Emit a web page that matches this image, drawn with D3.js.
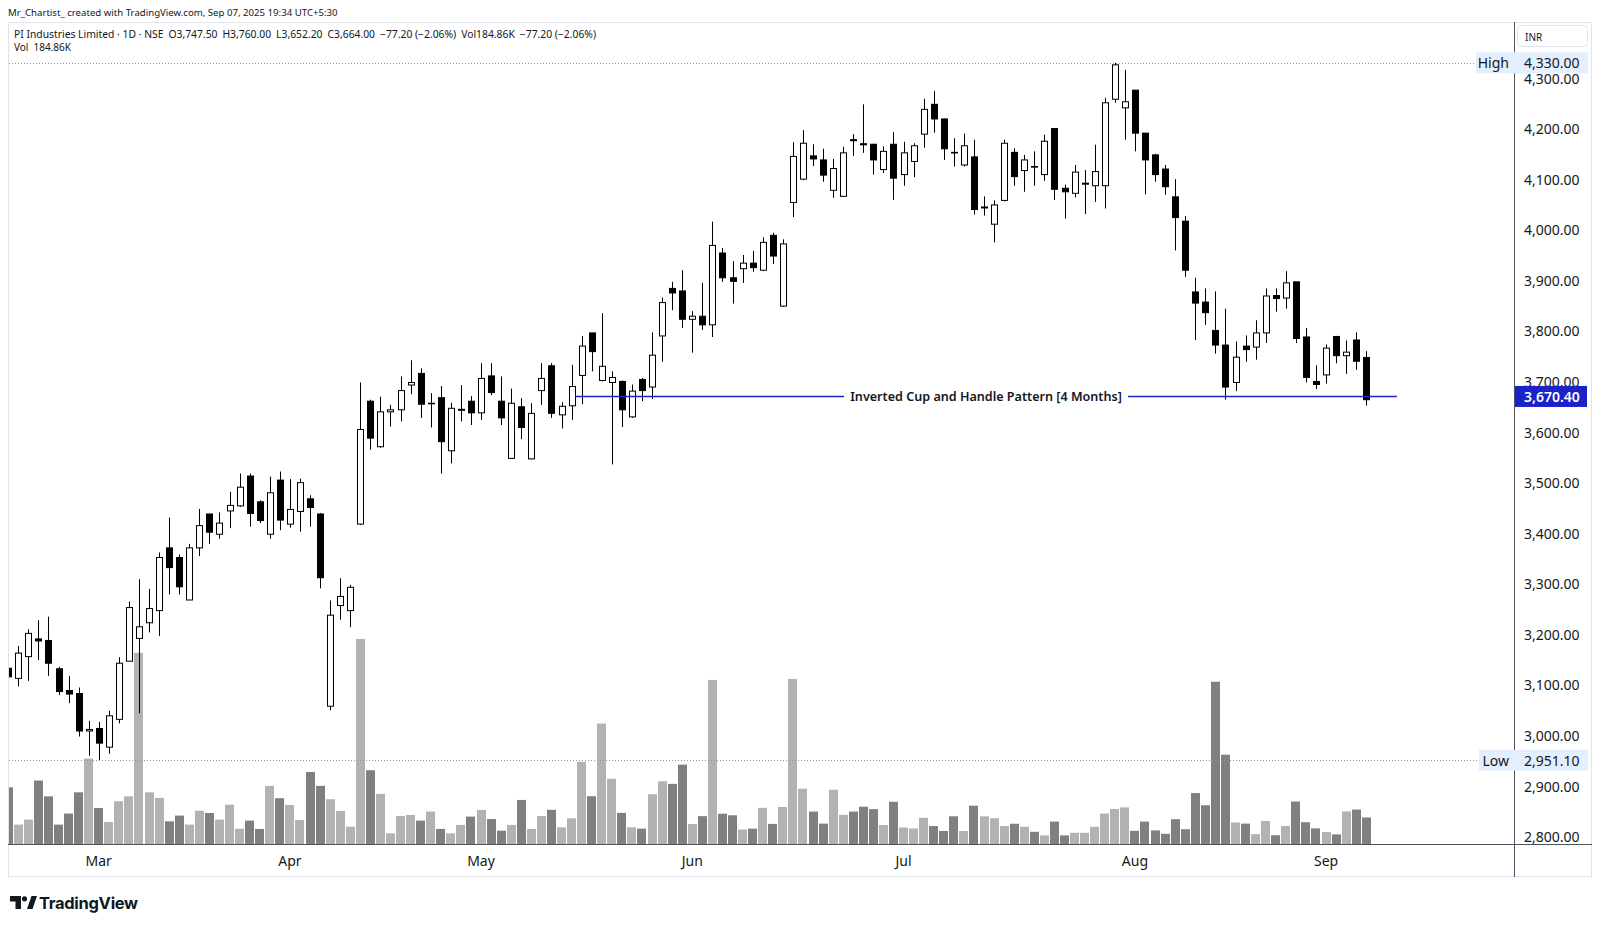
<!DOCTYPE html>
<html><head><meta charset="utf-8">
<script src="https://cdn.jsdelivr.net/npm/d3@7"></script>
<style>
html,body{margin:0;padding:0;background:#fff;}
svg{display:block;}
text{font-family:"Noto Sans",Roboto,sans-serif;fill:#131722;}
</style></head><body>
<svg id="chart" width="1600" height="927"></svg>
<script>
// ---------------- DATA ----------------
const dates = [
"2025-02-17","2025-02-18","2025-02-19","2025-02-20","2025-02-21","2025-02-24","2025-02-25","2025-02-27","2025-02-28",
"2025-03-03","2025-03-04","2025-03-05","2025-03-06","2025-03-07","2025-03-10","2025-03-11","2025-03-12","2025-03-13","2025-03-17","2025-03-18","2025-03-19","2025-03-20","2025-03-21","2025-03-24","2025-03-25","2025-03-26","2025-03-27","2025-03-28",
"2025-04-01","2025-04-02","2025-04-03","2025-04-04","2025-04-07","2025-04-08","2025-04-09","2025-04-11","2025-04-15","2025-04-16","2025-04-17","2025-04-21","2025-04-22","2025-04-23","2025-04-24","2025-04-25","2025-04-28","2025-04-29","2025-04-30",
"2025-05-02","2025-05-05","2025-05-06","2025-05-07","2025-05-08","2025-05-09","2025-05-12","2025-05-13","2025-05-14","2025-05-15","2025-05-16","2025-05-19","2025-05-20","2025-05-21","2025-05-22","2025-05-23","2025-05-26","2025-05-27","2025-05-28","2025-05-29","2025-05-30",
"2025-06-02","2025-06-03","2025-06-04","2025-06-05","2025-06-06","2025-06-09","2025-06-10","2025-06-11","2025-06-12","2025-06-13","2025-06-16","2025-06-17","2025-06-18","2025-06-19","2025-06-20","2025-06-23","2025-06-24","2025-06-25","2025-06-26","2025-06-27","2025-06-30",
"2025-07-01","2025-07-02","2025-07-03","2025-07-04","2025-07-07","2025-07-08","2025-07-09","2025-07-10","2025-07-11","2025-07-14","2025-07-15","2025-07-16","2025-07-17","2025-07-18","2025-07-21","2025-07-22","2025-07-23","2025-07-24","2025-07-25","2025-07-28","2025-07-29","2025-07-30","2025-07-31",
"2025-08-01","2025-08-04","2025-08-05","2025-08-06","2025-08-07","2025-08-08","2025-08-11","2025-08-12","2025-08-13","2025-08-14","2025-08-18","2025-08-19","2025-08-20","2025-08-21","2025-08-22","2025-08-25","2025-08-26","2025-08-28","2025-08-29",
"2025-09-01","2025-09-02","2025-09-03","2025-09-04","2025-09-05"
];
const open = [3133,3113,3156,3191,3188,3132,3089,3083,3009,3014,2977,3032,3147,3192,3223,3247,3371,3352,3268,3371,3438,3398,3444,3454,3513,3462,3398,3505,3418,3443,3468,3438,3058,3257,3247,3418,3661,3571,3640,3644,3693,3716,3656,3668,3563,3643,3661,3638,3711,3661,3548,3650,3547,3682,3731,3634,3652,3712,3796,3702,3698,3700,3630,3704,3689,3790,3884,3879,3823,3829,3812,3954,3905,3923,3934,3920,3989,3849,4054,4100,4146,4138,4078,4066,4178,4170,4169,4119,4169,4109,4135,4189,4248,4219,4153,4128,4144,4043,4011,4058,4153,4117,4125,4109,4200,4082,4072,4090,4087,4087,4258,4241,4276,4191,4148,4120,4065,4017,3877,3857,3801,3772,3698,3770,3768,3796,3870,3865,3897,3788,3700,3713,3789,3751,3782,3747.5];
const high = [3188,3177,3210,3228,3235,3136,3118,3095,3029,3027,3049,3155,3265,3309,3290,3362,3431,3358,3379,3448,3438,3441,3482,3518,3518,3465,3512,3522,3507,3508,3475,3440,3267,3311,3298,3698,3664,3670,3654,3710,3742,3726,3677,3691,3658,3693,3671,3736,3736,3710,3686,3667,3657,3736,3736,3659,3733,3790,3796,3835,3720,3702,3694,3707,3797,3866,3897,3920,3839,3895,4016,3964,3938,3950,3958,3985,3994,3981,4173,4197,4169,4160,4140,4164,4189,4248,4170,4165,4193,4174,4171,4259,4274,4220,4181,4190,4178,4066,4058,4178,4161,4148,4155,4188,4200,4089,4128,4118,4168,4261,4330,4316,4276,4191,4150,4128,4100,4027,3905,3884,3878,3844,3779,3791,3821,3884,3884,3918,3897,3806,3732,3773,3790,3781,3797,3760];
const low = [3100,3097,3108,3149,3118,3080,3064,2998,2960,2951.1,2964,3024,3147,3044,3204,3197,3279,3279,3268,3355,3379,3389,3410,3452,3413,3420,3389,3406,3411,3403,3413,3291,3050,3229,3214,3416,3565,3569,3611,3621,3675,3628,3609,3518,3538,3621,3614,3624,3673,3614,3547,3586,3546,3654,3628,3607,3624,3655,3720,3700,3536,3610,3628,3661,3665,3739,3841,3806,3757,3802,3788,3897,3854,3895,3917,3918,3932,3848,4025,4098,4126,4095,4063,4065,4146,4152,4109,4112,4059,4087,4104,4162,4192,4138,4125,4125,4030,4028,3975,4056,4087,4075,4087,4097,4059,4022,4064,4031,4055,4042,4251,4178,4155,4070,4095,4069,3959,3907,3782,3812,3755,3664,3681,3739,3743,3776,3838,3844,3776,3698,3685,3696,3736,3715,3723,3652.2];
const close = [3116,3163,3202,3187,3143,3087,3082,3009,3012,2985,3039,3143,3253,3215,3251,3352,3332,3294,3371,3415,3402,3420,3455,3491,3439,3425,3480,3426,3447,3500,3451,3312,3238,3275,3293,3605,3588,3640,3644,3682,3698,3655,3657,3581,3647,3645,3638,3706,3678,3628,3657,3609,3637,3706,3637,3651,3690,3770,3759,3730,3708,3644,3681,3682,3752,3856,3875,3823,3829,3812,3969,3905,3898,3934,3925,3975,3948,3972,4145,4171,4140,4108,4121,4152,4176,4168,4138,4155,4102,4152,4166,4238,4219,4160,4152,4166,4040,4045,4049,4171,4105,4138,4124,4175,4080,4075,4114,4092,4115,4251,4326,4253,4191,4138,4109,4085,4024,3920,3855,3836,3772,3689,3748,3763,3796,3869,3864,3895,3785,3708,3694,3766,3751,3758,3740,3664];
const volume = [395,135,170,442,332,135,212,360,595,251,153,298,332,1332,360,321,158,198,135,232,216,170,274,106,163,105,405,319,272,167,502,405,312,230,121,1428,514,349,74,195,202,163,226,105,74,133,191,237,174,93,133,307,105,195,238,116,179,573,333,839,454,217,116,107,347,437,419,553,139,194,1143,211,200,101,107,252,140,258,1150,385,226,142,378,203,226,260,243,132,294,115,108,182,125,91,193,91,267,193,180,125,141,120,85,60,156,60,78,78,120,212,244,255,92,156,95,71,173,103,355,270,1130,622,150,142,69,160,61,125,296,152,109,83,67,227,240,184.86];
const priceTicks = [2800,2900,3000,3100,3200,3300,3400,3500,3600,3700,3800,3900,4000,4100,4200,4300];
const monthNames = ["Jan","Feb","Mar","Apr","May","Jun","Jul","Aug","Sep","Oct","Nov","Dec"];
const periodHigh = 4330.00;
const periodLow = 2951.10;
const patternPrice = 3670.40;
const patternSpan = [56.35, 138.05];   // in bar-index units
const patternLabel = "Inverted Cup and Handle Pattern [4 Months]";
const headerLine1 = "Mr_Chartist_ created with TradingView.com, Sep 07, 2025 19:34 UTC+5:30";
const headerParts = ["PI Industries Limited · 1D · NSE","O3,747.50","H3,760.00","L3,652.20","C3,664.00","−77.20 (−2.06%)","Vol184.86K","−77.20 (−2.06%)"];
const volLegend = ["Vol","184.86K"];

// ---------------- LAYOUT ----------------
const pane = {left: 8, top: 22, right: 1514, bottom: 844};
const axisRight = 1592, frameBottom = 877;
const svg = d3.select("#chart");
const n = dates.length;

const x = d3.scaleLinear().domain([0, n - 1]).range([8.2, 1366.3]);
const y = d3.scaleLinear().domain([2800, 4300]).range([836.7, 78]);
const yv = d3.scaleLinear().domain([0, d3.max(volume)]).range([pane.bottom, pane.bottom - 205]);

const data = dates.map((d, i) => ({i, d, o: open[i], h: high[i], l: low[i], c: close[i], v: volume[i]}));

// frame
svg.append("rect").attr("x", pane.left + 0.5).attr("y", pane.top + 0.5)
  .attr("width", axisRight - pane.left - 1).attr("height", frameBottom - pane.top - 1)
  .attr("fill", "none").attr("stroke", "#e0e3eb");

svg.append("clipPath").attr("id", "clip").append("rect")
  .attr("x", pane.left + 1).attr("y", pane.top + 1)
  .attr("width", pane.right - pane.left - 1).attr("height", pane.bottom - pane.top - 1);
const g = svg.append("g").attr("clip-path", "url(#clip)");

// volume bars
g.append("g").selectAll("rect").data(data).join("rect")
  .attr("x", d => Math.round(x(d.i) - 4.5))
  .attr("width", 9)
  .attr("y", d => yv(d.v))
  .attr("height", d => pane.bottom - yv(d.v))
  .attr("fill", d => d.c >= d.o ? "#b2b2b2" : "#808080");

// high / low dotted lines
[[periodHigh, 1476], [periodLow, 1479]].forEach(([v, xe]) => {
  svg.append("line").attr("x1", pane.left + 1).attr("x2", xe)
    .attr("y1", Math.round(y(v)) + 0.5).attr("y2", Math.round(y(v)) + 0.5)
    .attr("stroke", "#9598a1").attr("stroke-dasharray", "1,2").attr("stroke-width", 1);
});

// candles
const cand = g.append("g").selectAll("g").data(data).join("g");
cand.append("line")
  .attr("x1", d => Math.round(x(d.i)) + 0.5).attr("x2", d => Math.round(x(d.i)) + 0.5)
  .attr("y1", d => y(d.h)).attr("y2", d => y(d.l))
  .attr("stroke", "#000").attr("stroke-width", 1);
cand.append("rect")
  .attr("x", d => Math.round(x(d.i)) - 2.5)
  .attr("width", 6)
  .attr("y", d => y(Math.max(d.o, d.c)))
  .attr("height", d => Math.max(0.6, Math.abs(y(d.o) - y(d.c))))
  .attr("fill", d => d.c >= d.o ? "#ffffff" : "#000000")
  .attr("stroke", "#000").attr("stroke-width", 1);

// pattern line with label
const py = y(patternPrice);
g.append("line").attr("x1", x(patternSpan[0])).attr("x2", x(patternSpan[1]))
  .attr("y1", py).attr("y2", py).attr("stroke", "#1c22c9").attr("stroke-width", 1.5);
const lblX = (x(patternSpan[0]) + x(patternSpan[1])) / 2;
const lblBg = g.append("rect").attr("fill", "#fff");
const lbl = g.append("text").attr("x", lblX).attr("y", py).attr("text-anchor", "middle")
  .attr("dominant-baseline", "central").style("font-size", "12px").style("font-weight", 600)
  .text(patternLabel);
const lw = lbl.node().getComputedTextLength();
lbl.style("font-size", (12 * 272 / lw) + "px");
lblBg.attr("x", lblX - 136 - 6).attr("width", 272 + 12).attr("y", py - 8).attr("height", 16);

// axes lines
svg.append("line").attr("x1", pane.left).attr("x2", axisRight).attr("y1", pane.bottom + 0.5).attr("y2", pane.bottom + 0.5)
  .attr("stroke", "#50535e").attr("stroke-width", 1.2);
svg.append("line").attr("x1", pane.right + 0.5).attr("x2", pane.right + 0.5).attr("y1", pane.top).attr("y2", frameBottom)
  .attr("stroke", "#50535e").attr("stroke-width", 1);

// price axis labels
const fmt = d3.format(",.2f");
svg.append("g").selectAll("text").data(priceTicks).join("text")
  .attr("x", 1524).attr("y", d => y(d)).attr("dominant-baseline", "central")
  .style("font-size", "14px").text(d => fmt(d));

// INR box
svg.append("rect").attr("x", 1517.5).attr("y", 25.5).attr("width", 70).attr("height", 21).attr("rx", 4)
  .attr("fill", "#fff").attr("stroke", "#e0e3eb");
svg.append("text").attr("x", 1525).attr("y", 36.5).attr("dominant-baseline", "central")
  .style("font-size", "10px").text("INR");

// High / Low markers
function marker(v, word, wx) {
  const yy = y(v);
  svg.append("rect").attr("x", wx).attr("y", yy - 10.5).attr("width", 1588 - wx).attr("height", 21)
    .attr("fill", "#e3effd");
  svg.append("text").attr("x", pane.right - 5).attr("y", yy).attr("text-anchor", "end")
    .attr("dominant-baseline", "central").style("font-size", "14px").text(word);
  svg.append("text").attr("x", 1524).attr("y", yy).attr("dominant-baseline", "central")
    .style("font-size", "14px").text(fmt(v));
}
marker(periodHigh, "High", 1476);
marker(periodLow, "Low", 1479);

// pattern price label on the axis
svg.append("rect").attr("x", 1515).attr("y", py - 10.5).attr("width", 72).attr("height", 21).attr("fill", "#1c22c9");
svg.append("text").attr("x", 1524).attr("y", py).attr("dominant-baseline", "central")
  .style("font-size", "14px").style("font-weight", 600).style("fill", "#fff").text(fmt(patternPrice));

// month labels
const monthStarts = data.filter((d, i) => i > 0 && d.d.slice(5, 7) !== data[i - 1].d.slice(5, 7));
svg.append("g").selectAll("text").data(monthStarts).join("text")
  .attr("x", d => x(d.i)).attr("y", 860).attr("text-anchor", "middle").attr("dominant-baseline", "central")
  .style("font-size", "14px").text(d => monthNames[+d.d.slice(5, 7) - 1]);

// header (fitted to the reference line widths)
function fitText(sel, target) {
  const w = sel.node().getComputedTextLength();
  sel.style("font-size", (10.5 * target / w) + "px");
}
const h1 = svg.append("text").attr("x", 8).attr("y", 12).attr("dominant-baseline", "central")
  .style("font-size", "10.5px").text(headerLine1);
fitText(h1, 330);
const h2 = svg.append("text").attr("x", 14).attr("y", 33.5).attr("dominant-baseline", "central").style("font-size", "10.5px");
headerParts.forEach((t, k) => h2.append("tspan").attr("dx", k === 0 ? 0 : 5).text(t));
fitText(h2, 548);
const h3 = svg.append("text").attr("x", 14).attr("y", 46.5).attr("dominant-baseline", "central").style("font-size", "10px");
volLegend.forEach((t, k) => h3.append("tspan").attr("dx", k === 0 ? 0 : 5).text(t));

// TradingView logo
const lg = svg.append("g").attr("fill", "#131722");
lg.append("path").attr("d", "M10,896 H21 V909 H15.5 V901.5 H10 Z");
lg.append("circle").attr("cx", 24.5).attr("cy", 898.8).attr("r", 2.6);
lg.append("path").attr("d", "M27,909 L31.5,896 H37 L32.5,909 Z");
svg.append("text").attr("x", 39).attr("y", 903).attr("dominant-baseline", "central")
  .style("font-size", "16.5px").style("font-weight", 700).style("font-family", "Inter, 'Noto Sans', sans-serif")
  .style("letter-spacing", "-0.3px").text("TradingView");
</script>
</body></html>
